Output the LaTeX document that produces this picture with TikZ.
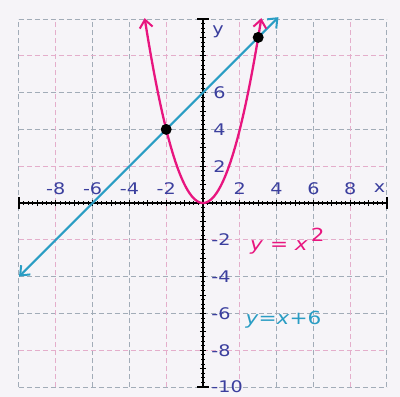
\documentclass[tikz,border=0pt]{standalone}
\usepackage{fontspec}
\setmainfont{DejaVu Sans}
\newfontfamily\labfont[FakeStretch=1.2]{DejaVu Sans}
\usetikzlibrary{arrows.meta}
\definecolor{bg}{HTML}{F6F4F8}
\definecolor{gridpink}{HTML}{E4AECB}
\definecolor{gridgrey}{HTML}{A2ACB8}
\definecolor{labblue}{HTML}{3B3F9E}
\definecolor{parab}{HTML}{E8157F}
\definecolor{linec}{HTML}{2A9DC4}
\begin{document}
\begin{tikzpicture}[x=18.4pt,y=18.4pt,
  gp/.style={gridpink, dash pattern=on 5pt off 3pt, line width=1pt},
  gg/.style={gridgrey, dash pattern=on 5pt off 3pt, line width=1pt},
  axisline/.style={black, line width=1.3pt},
  tickline/.style={black, line width=0.9pt},
  lab/.style={labblue, font=\labfont\fontsize{16}{16}\selectfont, inner sep=0pt},
  eqn/.style={font=\labfont\fontsize{18}{18}\selectfont, anchor=base west, inner sep=0pt},
  >={Straight Barb[length=8pt,width=13pt,line width=2pt]},
  dot/.style={circle, fill=black, inner sep=0pt, minimum size=11pt}]
\fill[bg] (-203pt,-194pt) rectangle (197pt,203pt);
\useasboundingbox (-203pt,-194pt) rectangle (197pt,203pt);
% grid
\foreach \v in {-10,-6,-4,4,6,10} {
  \draw[gg] (\v,-10) -- (\v,10);
  \draw[gg] (-10,\v) -- (10,\v);
}
\foreach \v in {-8,-2,2,8} {
  \draw[gp] (\v,-10) -- (\v,10);
  \draw[gp] (-10,\v) -- (10,\v);
}
% axes
\draw[axisline] (-10,0) -- (10,0);
\draw[axisline] (0,-10) -- (0,10);
\foreach \i in {-40,...,40} {
  \draw[tickline] (\i/4,-0.1) -- (\i/4,0.1);
  \draw[tickline] (-0.1,\i/4) -- (0.1,\i/4);
}
\foreach \i in {-10,...,10} {
  \draw[tickline] (\i,-0.17) -- (\i,0.17);
  \draw[tickline] (-0.17,\i) -- (0.17,\i);
}
\draw[axisline] (-10,-0.3) -- (-10,0.3);
\draw[axisline] (10,-0.3) -- (10,0.3);
\draw[axisline] (-0.3,-10) -- (0.3,-10);
\draw[axisline] (-0.3,10) -- (0.3,10);
% labels
\foreach \v/\n in {-8/a,-6/b,-4/c,-2/d,2/e,4/f,6/g,8/h}
  \node[lab] (x\n) at (\v,0.8) {\v};
\node[lab] (xname) at (9.6,0.8) {x};
\foreach \v/\n in {6/g,4/f,2/e}
  \node[lab, anchor=west] (y\n) at (0.55,\v) {\v};
\foreach \v/\n in {-2/d,-4/c,-6/b,-8/a,-10/z}
  \node[lab, anchor=west] (y\n) at (0.45,\v) {\v};
\node[lab, anchor=west] (yname) at (0.5,9.3) {y};
% curves
\draw[linec, line width=2pt, line cap=round, <->] (-10,-4) -- (4.1,10.1);
\draw[parab, line width=2.3pt, line cap=round, <->, domain=-3.17:3.17, samples=80, smooth] plot (\x,{\x*\x});
\node[dot] (p1) at (-2,4) {};
\node[dot] (p2) at (3,9) {};
% equations
\node[parab, eqn] (eq1) at (2.55,-2.6) {\textit{y} = \textit{x}\,\raisebox{9pt}{2}};
\node[linec, eqn] (eq2) at (2.3,-6.6) {\textit{y}=\textit{x}+6};
\end{tikzpicture}
\end{document}
